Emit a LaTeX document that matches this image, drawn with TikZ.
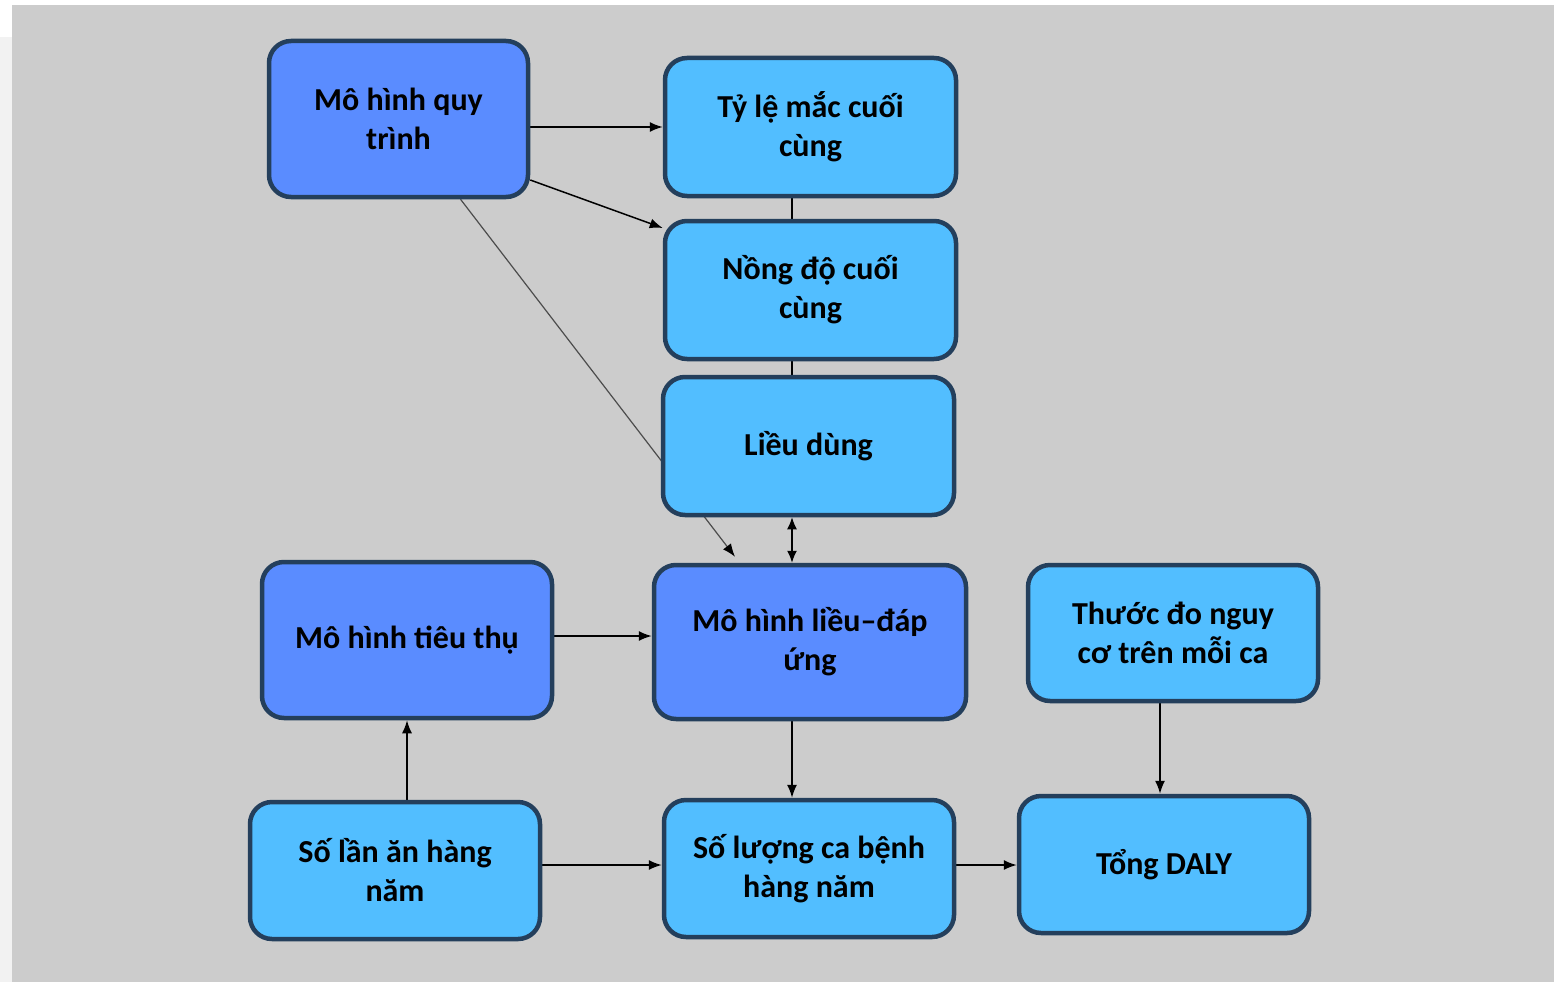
\documentclass[tikz,border=0pt]{standalone}
\usepackage{fontspec}
\setmainfont{Carlito}
\usetikzlibrary{arrows.meta}
\definecolor{pagebg}{HTML}{CCCCCC}
\definecolor{stripbg}{HTML}{F2F2F2}
\definecolor{darkfill}{HTML}{5A8CFF}
\definecolor{lightfill}{HTML}{52BEFF}
\definecolor{edgeline}{HTML}{243F5C}
\pgfdeclarelayer{page}
\pgfdeclarelayer{links}
\pgfsetlayers{page,links,main}
\begin{document}
\begin{tikzpicture}[x=1pt,y=-1pt,
  box/.style={draw=edgeline, line width=4.5pt, rounded corners=22pt,
    inner sep=0pt, align=center, text=black,
    font=\fontsize{32}{39}\selectfont\bfseries},
  model/.style={box, fill=darkfill},
  quantity/.style={box, fill=lightfill},
  link/.style={draw=black, line width=1.5pt, -{Latex[length=13pt,width=10pt]}},
  plain/.style={draw=black, line width=1.5pt},
  both/.style={draw=black, line width=1.5pt, {Latex[length=12pt,width=10pt]}-{Latex[length=12pt,width=10pt]}},
  diag/.style={draw=black!70, line width=1.2pt, -{Latex[length=13pt,width=10pt,color=black]}}]

% page background
\useasboundingbox (0,0) rectangle (1554,982);
\begin{pgfonlayer}{page}
\fill[white] (0,0) rectangle (1554,982);
\fill[stripbg] (0,37) rectangle (12,982);
\fill[pagebg] (12,5) rectangle (1554,982);
\end{pgfonlayer}

% nodes
\node[model, minimum width=259pt, minimum height=156pt] (proc) at (398.5,119) {Mô hình quy\\trình};
\node[quantity, minimum width=291pt, minimum height=138pt] (tyle) at (810.5,127) {Tỷ lệ mắc cuối\\cùng};
\node[quantity, minimum width=291pt, minimum height=138pt] (nongdo) at (810.5,290) {Nồng độ cuối\\cùng};
\node[quantity, minimum width=291pt, minimum height=138pt] (lieu) at (808.5,446) {Liều dùng};
\node[model, minimum width=312pt, minimum height=154pt] (dr) at (810,642) {Mô hình liều–đáp\\ứng};
\node[model, minimum width=290pt, minimum height=156pt] (tieuthu) at (407,640) {Mô hình tiêu thụ};
\node[quantity, minimum width=290pt, minimum height=136pt] (thuoc) at (1173,633) {Thước đo nguy\\cơ trên mỗi ca};
\node[quantity, minimum width=290pt, minimum height=137pt] (solan) at (395,870.5) {Số lần ăn hàng\\năm};
\node[quantity, minimum width=290pt, minimum height=137pt] (soluong) at (809,868.5) {Số lượng ca bệnh\\hàng năm};
\node[quantity, minimum width=290pt, minimum height=137pt] (daly) at (1164,864.5) {Tổng DALY};

% connectors, drawn beneath the boxes (shifts are in page points, up is positive)
\begin{pgfonlayer}{links}
\draw[link] (proc.east |- tyle.west) -- (tyle.west);
\draw[link] ([yshift=-61pt]proc.east) -- ([yshift=62pt]nongdo.west);
\draw[diag] ([xshift=62pt]proc.south) -- ([xshift=-75pt,yshift=6pt]dr.north);
\draw[plain] ([xshift=-18.5pt]tyle.south) -- ([xshift=-18.5pt]nongdo.north);
\draw[plain] ([xshift=-18.5pt]nongdo.south) -- ([xshift=-16.5pt]lieu.north);
\draw[both] ([xshift=-16.5pt]lieu.south) -- ([xshift=-18pt]dr.north);
\draw[link] ([yshift=4pt]tieuthu.east) -- ([yshift=4pt]tieuthu.east -| dr.west);
\draw[link] ([xshift=12pt]solan.north) -- ([xshift=12pt]solan.north |- tieuthu.south);
\draw[link] ([yshift=5.5pt]solan.east) -- ([yshift=5.5pt]solan.east -| soluong.west);
\draw[link] ([xshift=-18pt]dr.south) -- ([xshift=-18pt]dr.south |- soluong.north);
\draw[link] ([yshift=3.5pt]soluong.east) -- ([yshift=3.5pt]soluong.east -| daly.west);
\draw[link] ([xshift=-13pt]thuoc.south) -- ([xshift=-13pt]thuoc.south |- daly.north);
\end{pgfonlayer}
\end{tikzpicture}
\end{document}
